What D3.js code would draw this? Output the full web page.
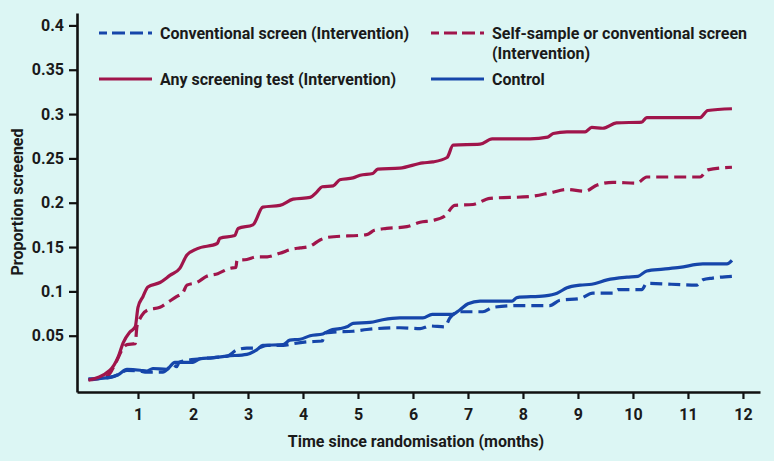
<!DOCTYPE html>
<html>
<head>
<meta charset="utf-8">
<script src="https://cdn.jsdelivr.net/npm/d3@7"></script>
<style>
  body { margin: 0; background: #dcf6f4; }
  svg { display: block; font-family: Roboto, "DejaVu Sans", sans-serif; font-weight: bold; }
</style>
</head>
<body>
<div id="chart"></div>
<script>
// values (months, proportion screened)
var anyMonths = [0.1,0.49,0.64,0.73,0.85,0.95,1.0,1.09,1.18,1.4,1.58,1.76,1.89,2.07,2.44,2.49,2.76,2.82,3.09,3.27,3.58,3.82,4.13,4.25,4.35,4.55,4.67,4.91,5.04,5.27,5.36,5.76,6.18,6.36,6.62,6.73,7.22,7.44,8.13,8.45,8.55,8.8,9.13,9.25,9.45,9.7,10.16,10.25,11.22,11.36,11.8];
var anyValues = [0,0.011,0.026,0.042,0.054,0.06,0.082,0.094,0.105,0.11,0.118,0.126,0.141,0.148,0.154,0.16,0.163,0.171,0.175,0.195,0.197,0.204,0.206,0.212,0.218,0.219,0.226,0.228,0.231,0.233,0.238,0.239,0.245,0.246,0.251,0.265,0.266,0.272,0.272,0.274,0.278,0.28,0.28,0.285,0.284,0.29,0.291,0.296,0.296,0.304,0.306];

var selfMonths = [0.1,0.45,0.6,0.72,0.8,0.95,0.98,1.0,1.07,1.18,1.4,1.55,1.7,1.82,1.89,2.07,2.25,2.45,2.67,2.78,2.8,2.98,3.16,3.35,3.58,3.82,3.95,4.13,4.31,4.45,5.16,5.3,5.52,5.89,6.13,6.36,6.58,6.76,7.09,7.4,8.13,8.49,8.8,9.13,9.35,9.64,10.07,10.25,11.22,11.36,11.8];
var selfValues = [0,0.005,0.02,0.035,0.04,0.041,0.06,0.064,0.073,0.079,0.082,0.088,0.094,0.099,0.107,0.11,0.117,0.12,0.126,0.127,0.135,0.136,0.139,0.139,0.143,0.148,0.149,0.151,0.158,0.161,0.164,0.169,0.171,0.173,0.178,0.18,0.185,0.197,0.198,0.205,0.207,0.211,0.215,0.213,0.22,0.223,0.222,0.229,0.229,0.237,0.24];

var controlMonths = [0.1,0.49,0.64,0.8,1.04,1.16,1.27,1.52,1.67,2.0,2.13,2.36,2.62,2.98,3.16,3.27,3.64,3.76,3.95,4.13,4.36,4.49,4.67,4.8,4.91,5.22,5.45,5.76,6.18,6.35,6.71,6.85,7.0,7.22,7.8,7.89,8.4,8.62,8.8,9.04,9.25,9.53,9.89,10.09,10.25,10.55,10.85,11.27,11.71,11.8];
var controlValues = [0.001,0.003,0.006,0.012,0.011,0.01,0.013,0.012,0.02,0.02,0.024,0.025,0.027,0.029,0.034,0.039,0.04,0.045,0.046,0.05,0.052,0.056,0.058,0.06,0.064,0.065,0.068,0.07,0.07,0.074,0.074,0.079,0.086,0.089,0.089,0.093,0.095,0.098,0.104,0.107,0.108,0.113,0.116,0.117,0.123,0.125,0.127,0.131,0.131,0.135];

var convMonths = [0.1,0.49,0.64,0.8,1.04,1.16,1.45,1.64,1.7,1.75,2.13,2.62,2.8,2.98,3.16,3.35,3.64,3.82,4.07,4.35,4.4,4.55,4.91,5.16,5.76,6.13,6.31,6.58,6.67,6.85,7.27,7.45,7.95,8.49,8.67,9.04,9.27,9.64,9.73,10.16,10.25,11.16,11.27,11.45,11.8];
var convValues = [0.001,0.003,0.006,0.011,0.01,0.009,0.009,0.017,0.015,0.02,0.024,0.027,0.034,0.036,0.036,0.039,0.039,0.041,0.043,0.044,0.053,0.054,0.055,0.057,0.059,0.058,0.061,0.06,0.07,0.077,0.077,0.082,0.084,0.084,0.09,0.092,0.098,0.098,0.102,0.102,0.109,0.107,0.113,0.115,0.117];

var xTicks = [1,2,3,4,5,6,7,8,9,10,11,12];
var yTicks = [0.05,0.1,0.15,0.2,0.25,0.3,0.35,0.4];

var crimson = "#a0154b", blue = "#1646aa";

var width = 774, height = 461;

var svg = d3.select("#chart").append("svg")
    .attr("width", width)
    .attr("height", height);

var x = d3.scaleLinear().domain([-0.109, 12.31]).range([77, 760]);
var y = d3.scaleLinear().domain([-0.0135, 0.414]).range([392, 13]);

// axes
var xAxis = svg.append("g")
    .attr("transform", "translate(0,392)")
    .call(d3.axisBottom(x).tickValues(xTicks).tickSize(7).tickPadding(10).tickSizeOuter(0));
var yAxis = svg.append("g")
    .attr("transform", "translate(77,0)")
    .call(d3.axisLeft(y).tickValues(yTicks).tickSize(8).tickPadding(5).tickSizeOuter(0)
      .tickFormat(function(d) { return d3.format("")(+d.toFixed(2)); }));

[xAxis, yAxis].forEach(function(g) {
  g.select(".domain").attr("stroke", "#111").attr("stroke-width", 2.6);
  g.selectAll(".tick line").attr("stroke", "#111").attr("stroke-width", 2.2);
  g.selectAll(".tick text")
    .attr("fill", "#1a1a1a")
    .style("font-size", "16px")
    .style("font-family", "Roboto, sans-serif")
    .style("font-weight", "bold");
});

// axis titles
svg.append("text")
    .attr("x", 416).attr("y", 447)
    .attr("text-anchor", "middle")
    .attr("fill", "#1a1a1a")
    .style("font-size", "16px")
    .text("Time since randomisation (months)");

svg.append("text")
    .attr("transform", "translate(23,202) rotate(-90)")
    .attr("text-anchor", "middle")
    .attr("fill", "#1a1a1a")
    .style("font-size", "16px")
    .text("Proportion screened");

// series
var series = [
  { name: "Conventional screen (Intervention)", months: convMonths, values: convValues, color: blue, dash: "12,6" },
  { name: "Self-sample or conventional screen", months: selfMonths, values: selfValues, color: crimson, dash: "12,6" },
  { name: "Control", months: controlMonths, values: controlValues, color: blue, dash: null },
  { name: "Any screening test (Intervention)", months: anyMonths, values: anyValues, color: crimson, dash: null }
];

var line = d3.line()
    .x(function(d) { return x(d[0]); })
    .y(function(d) { return y(d[1]); })
    .curve(d3.curveMonotoneX);

series.forEach(function(s) {
  var pts = s.months.map(function(m, i) { return [m, s.values[i]]; });
  svg.append("path")
      .datum(pts)
      .attr("d", line)
      .attr("fill", "none")
      .attr("stroke", s.color)
      .attr("stroke-width", 3.2)
      .attr("stroke-linejoin", "round")
      .attr("stroke-dasharray", s.dash);
});

// legend
var legendItems = [
  { label: ["Conventional screen (Intervention)"], color: blue, dash: "8,5,13,5,13,5,8", lx: 99, ly: 33 },
  { label: ["Any screening test (Intervention)"], color: crimson, dash: null, lx: 99, ly: 79 },
  { label: ["Self-sample or conventional screen", "(Intervention)"], color: crimson, dash: "8,5,13,5,13,5,8", lx: 431, ly: 33 },
  { label: ["Control"], color: blue, dash: null, lx: 431, ly: 79 }
];

legendItems.forEach(function(it) {
  svg.append("line")
      .attr("x1", it.lx).attr("x2", it.lx + 53)
      .attr("y1", it.ly).attr("y2", it.ly)
      .attr("stroke", it.color)
      .attr("stroke-width", 3.2)
      .attr("stroke-dasharray", it.dash);
  it.label.forEach(function(t, i) {
    svg.append("text")
        .attr("x", it.lx + 61)
        .attr("y", it.ly + 5.5 + i * 20)
        .attr("fill", "#1a1a1a")
        .style("font-size", "16px")
        .text(t);
  });
});
</script>
</body>
</html>
